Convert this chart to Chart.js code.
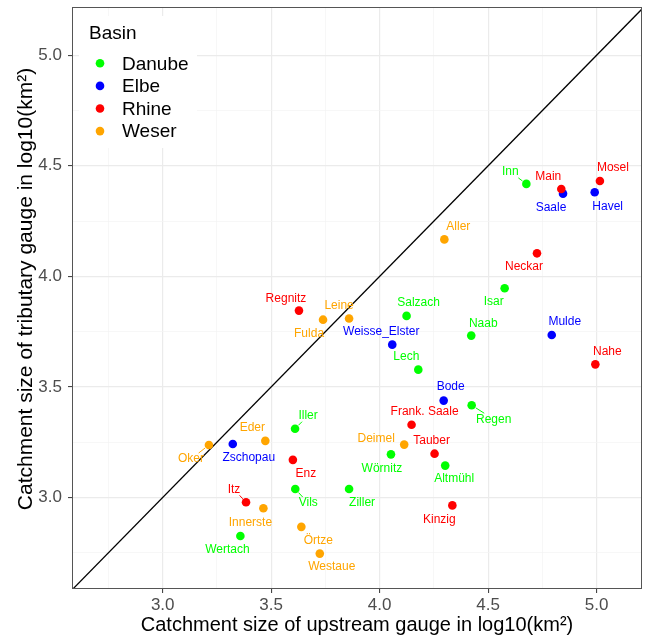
<!DOCTYPE html>
<html>
<head>
<meta charset="utf-8">
<title>Catchment sizes</title>
<script src="https://cdn.jsdelivr.net/npm/chart.js@4.4.1/dist/chart.umd.min.js"></script>
<style>
  html, body { margin: 0; padding: 0; background: #fff; }
  #wrap { width: 648px; height: 639px; position: relative; }
</style>
</head>
<body>
<div id="wrap"><canvas id="scatterChart"></canvas></div>
<script>
// Data (log10 of catchment area, km²)
const BASINS = ['Danube', 'Elbe', 'Rhine', 'Weser'];
const BASIN_COLORS = ['#00FF00', '#0000FF', '#FF0000', '#FFA500'];

const DANUBE_NAMES = ['Inn', 'Salzach', 'Isar', 'Naab', 'Lech', 'Regen', 'Iller', 'Vils', 'Ziller', 'Wörnitz', 'Altmühl', 'Wertach'];
const DANUBE_UP    = [4.676, 4.124, 4.576, 4.422, 4.178, 4.424, 3.610, 3.611, 3.859, 4.052, 4.302, 3.358];
const DANUBE_TRIB  = [4.418, 3.821, 3.946, 3.732, 3.578, 3.417, 3.311, 3.038, 3.038, 3.195, 3.144, 2.826];

const ELBE_NAMES = ['Saale', 'Havel', 'Weisse_Elster', 'Mulde', 'Bode', 'Zschopau'];
const ELBE_UP    = [4.845, 4.991, 4.058, 4.793, 4.295, 3.323];
const ELBE_TRIB  = [4.374, 4.380, 3.691, 3.735, 3.438, 3.242];

const RHINE_NAMES = ['Main', 'Mosel', 'Neckar', 'Regnitz', 'Nahe', 'Frank. Saale', 'Tauber', 'Enz', 'Itz', 'Kinzig'];
const RHINE_UP    = [4.837, 5.015, 4.725, 3.628, 4.994, 4.147, 4.253, 3.600, 3.384, 4.335];
const RHINE_TRIB  = [4.395, 4.431, 4.104, 3.845, 3.602, 3.329, 3.198, 3.170, 2.978, 2.964];

const WESER_NAMES = ['Aller', 'Leine', 'Fulda', 'Eder', 'Oker', 'Deimel', 'Innerste', 'Örtze', 'Westaue'];
const WESER_UP    = [4.298, 3.859, 3.739, 3.473, 3.213, 4.113, 3.464, 3.639, 3.724];
const WESER_TRIB  = [4.167, 3.809, 3.804, 3.256, 3.237, 3.239, 2.951, 2.867, 2.746];

const X_MIN = 2.582, X_MAX = 5.209;
const Y_MIN = 2.586, Y_MAX = 5.218;
const MAJOR_TICKS = [3.0, 3.5, 4.0, 4.5, 5.0];
const MINOR_TICKS = [2.75, 3.25, 3.75, 4.25, 4.75];

const X_TITLE = 'Catchment size of upstream gauge in log10(km²)';
const Y_TITLE = 'Catchment size of tributary gauge in log10(km²)';
const LEGEND_TITLE = 'Basin';

// Label placement (pixel nudges from each point, repel-style)
const LABEL_NUDGE = {
    'Inn': [-16, -12], 'Main': [-13, -12], 'Saale': [-12, 14], 'Mosel': [13, -13], 'Havel': [13, 14],
    'Aller': [14, -13], 'Neckar': [-13, 13], 'Isar': [-11, 13], 'Salzach': [12, -13], 'Naab': [12, -12],
    'Mulde': [13, -13], 'Nahe': [12, -13], 'Lech': [-12, -13], 'Regnitz': [-13, -12], 'Fulda': [-14, 14],
    'Leine': [-10, -13], 'Weisse_Elster': [-11, -13], 'Oker': [-18, 14], 'Zschopau': [16, 14],
    'Eder': [-13, -13], 'Iller': [13, -13], 'Enz': [13, 14], 'Vils': [13, 14], 'Ziller': [13, 14],
    'Itz': [-12, -13], 'Innerste': [-13, 14], 'Wertach': [-13, 14], 'Örtze': [17, 14], 'Westaue': [12, 13],
    'Bode': [7, -14], 'Regen': [22, 14], 'Frank. Saale': [13, -13], 'Deimel': [-28, -6],
    'Tauber': [-3, -13], 'Wörnitz': [-9, 14], 'Altmühl': [9, 13], 'Kinzig': [-13, 14]
};
const LEADERS = ['Inn', 'Oker', 'Iller', 'Vils', 'Itz', 'Regen'];

const FONT = "'Liberation Sans', Arial, Helvetica, sans-serif";
const POINT_R = 4.3;

function toPoints(xs, ys) {
    return xs.map((x, i) => ({ x: x, y: ys[i] }));
}

const seriesNames = [DANUBE_NAMES, ELBE_NAMES, RHINE_NAMES, WESER_NAMES];
const seriesPoints = [
    toPoints(DANUBE_UP, DANUBE_TRIB),
    toPoints(ELBE_UP, ELBE_TRIB),
    toPoints(RHINE_UP, RHINE_TRIB),
    toPoints(WESER_UP, WESER_TRIB)
];
const drawOrder = [1, 2, 0, 3];

const datasets = BASINS.map((b, i) => ({
    type: 'scatter',
    label: b,
    data: seriesPoints[i],
    backgroundColor: BASIN_COLORS[i],
    borderWidth: 0,
    pointRadius: POINT_R,
    pointHoverRadius: POINT_R,
    order: drawOrder[i]
}));

// 1:1 reference line
datasets.push({
    type: 'line',
    label: '1:1',
    data: [{ x: 2.4, y: 2.4 }, { x: 5.4, y: 5.4 }],
    borderColor: '#000000',
    borderWidth: 1.3,
    pointRadius: 0,
    clip: 0,
    order: 10
});

function isMajor(v) {
    return MAJOR_TICKS.some(t => Math.abs(t - v) < 1e-6);
}

function setTicks(scale) {
    scale.ticks = MINOR_TICKS.concat(MAJOR_TICKS).sort((a, b) => a - b).map(v => ({ value: v }));
}

function gridOptions() {
    return {
        color: ctx => isMajor(ctx.tick.value) ? '#EBEBEB' : '#F3F3F3',
        lineWidth: ctx => isMajor(ctx.tick.value) ? 1.2 : 0.7,
        tickColor: ctx => isMajor(ctx.tick.value) ? '#333333' : 'rgba(0,0,0,0)',
        tickLength: 4,
        tickWidth: 1,
        drawTicks: true
    };
}

// Text labels next to points
const pointLabels = {
    id: 'pointLabels',
    afterDatasetsDraw(chart) {
        const ctx = chart.ctx;
        ctx.save();
        ctx.font = '12px ' + FONT;
        ctx.textAlign = 'center';
        ctx.textBaseline = 'middle';
        BASINS.forEach((b, di) => {
            const meta = chart.getDatasetMeta(di);
            meta.data.forEach((el, i) => {
                const name = seriesNames[di][i];
                const nudge = LABEL_NUDGE[name] || [0, -12];
                const lx = el.x + nudge[0];
                const ly = el.y + nudge[1];
                ctx.fillStyle = BASIN_COLORS[di];
                ctx.fillText(name, lx, ly);
                if (LEADERS.includes(name)) {
                    const hw = ctx.measureText(name).width / 2 + 1;
                    const hh = 6;
                    const dx = el.x - lx, dy = el.y - ly;
                    const s = Math.min(dx ? hw / Math.abs(dx) : 1, dy ? hh / Math.abs(dy) : 1);
                    const sx = lx + s * dx, sy = ly + s * dy;
                    const len = Math.hypot(dx, dy);
                    const ex = el.x - dx / len * (POINT_R + 0.5);
                    const ey = el.y - dy / len * (POINT_R + 0.5);
                    ctx.strokeStyle = BASIN_COLORS[di];
                    ctx.lineWidth = 1;
                    ctx.beginPath();
                    ctx.moveTo(sx, sy);
                    ctx.lineTo(ex, ey);
                    ctx.stroke();
                }
            });
        });
        ctx.restore();
    }
};

// Panel border, y title and inset legend
const panelDecor = {
    id: 'panelDecor',
    afterDraw(chart) {
        const ctx = chart.ctx;
        const a = chart.chartArea;
        ctx.save();
        ctx.strokeStyle = '#555555';
        ctx.lineWidth = 1;
        ctx.strokeRect(a.left + 0.5, a.top + 0.5, a.right - a.left - 1, a.bottom - a.top - 1);

        // y axis title
        ctx.save();
        ctx.translate(26, 289);
        ctx.rotate(-Math.PI / 2);
        ctx.fillStyle = '#000000';
        ctx.font = '21px ' + FONT;
        ctx.textAlign = 'center';
        ctx.textBaseline = 'middle';
        ctx.fillText(Y_TITLE, 0, 0);
        ctx.restore();

        // legend box
        const lx = a.left + 7, ly = a.top + 9;
        ctx.fillStyle = '#FFFFFF';
        ctx.fillRect(lx, ly, 118, 132);
        ctx.fillStyle = '#000000';
        ctx.font = '19px ' + FONT;
        ctx.textAlign = 'left';
        ctx.textBaseline = 'middle';
        ctx.fillText(LEGEND_TITLE, 89, 34);
        BASINS.forEach((b, i) => {
            const y = 63.3 + i * 22.6;
            ctx.fillStyle = BASIN_COLORS[i];
            ctx.beginPath();
            ctx.arc(100, y, POINT_R, 0, Math.PI * 2);
            ctx.fill();
            ctx.fillStyle = '#000000';
            ctx.fillText(b, 122, y + 1);
        });
        ctx.restore();
    }
};

const config = {
    type: 'scatter',
    data: { datasets: datasets },
    options: {
        responsive: true,
        maintainAspectRatio: false,
        animation: false,
        layout: { padding: { top: 7, right: 6, left: 0, bottom: 0 } },
        plugins: {
            legend: { display: false },
            tooltip: { enabled: false }
        },
        scales: {
            x: {
                type: 'linear',
                min: X_MIN,
                max: X_MAX,
                afterBuildTicks: setTicks,
                afterFit: s => { s.height = 50; s.paddingLeft = 0; s.paddingRight = 0; },
                grid: gridOptions(),
                border: { display: false },
                ticks: {
                    autoSkip: false,
                    maxRotation: 0,
                    padding: 2,
                    color: '#4D4D4D',
                    font: { family: FONT, size: 17 },
                    callback: v => isMajor(v) ? v.toFixed(1) : ''
                },
                title: {
                    display: true,
                    text: X_TITLE,
                    color: '#000000',
                    font: { family: FONT, size: 20 },
                    padding: { top: 0, bottom: 2 }
                }
            },
            y: {
                type: 'linear',
                min: Y_MIN,
                max: Y_MAX,
                afterBuildTicks: setTicks,
                afterFit: s => { s.width = 72; s.paddingTop = 0; s.paddingBottom = 0; },
                grid: gridOptions(),
                border: { display: false },
                ticks: {
                    autoSkip: false,
                    padding: 6,
                    color: '#4D4D4D',
                    font: { family: FONT, size: 17 },
                    callback: v => isMajor(v) ? v.toFixed(1) : ''
                },
                title: { display: false }
            }
        }
    },
    plugins: [pointLabels, panelDecor]
};

document.addEventListener('DOMContentLoaded', () => {
    new Chart(document.getElementById('scatterChart').getContext('2d'), config);
});
</script>
</body>
</html>
